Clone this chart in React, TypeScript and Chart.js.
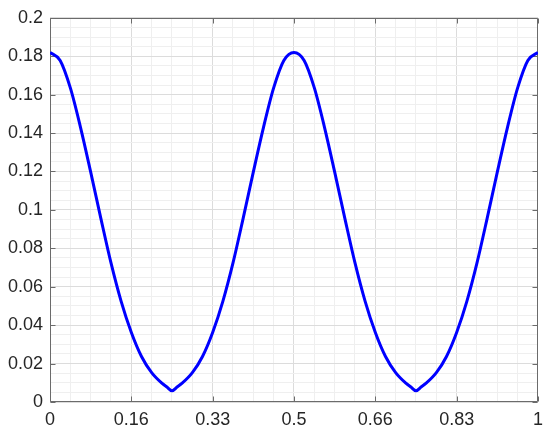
import React, { useEffect, useRef } from 'react';
import { Chart, registerables } from 'chart.js';

Chart.register(...registerables);

// Sample positions along x
const xValues = [
  0, 0.0208, 0.0417, 0.0625, 0.0833, 0.1042, 0.125, 0.1458, 0.1667, 0.1875, 0.2083, 0.2292, 0.2396,
  0.25, 0.2604, 0.2708, 0.2917, 0.3125, 0.3333, 0.3542, 0.375, 0.3958, 0.4167, 0.4375, 0.4583, 0.4792,
  0.5, 0.5208, 0.5417, 0.5625, 0.5833, 0.6042, 0.625, 0.6458, 0.6667, 0.6875, 0.7083, 0.7292, 0.7396,
  0.75, 0.7604, 0.7708, 0.7917, 0.8125, 0.8333, 0.8542, 0.875, 0.8958, 0.9167, 0.9375, 0.9583, 0.9792,
  1,
];

// Curve values
const yValues = [
  0.182, 0.1778, 0.1635, 0.143, 0.1198, 0.0956, 0.0724, 0.0524, 0.0362, 0.0237, 0.0153, 0.0098, 0.0078,
  0.0058, 0.0078, 0.0098, 0.0153, 0.0237, 0.0362, 0.0524, 0.0724, 0.0956, 0.1198, 0.143, 0.1635, 0.1778,
  0.182, 0.1778, 0.1635, 0.143, 0.1198, 0.0956, 0.0724, 0.0524, 0.0362, 0.0237, 0.0153, 0.0098, 0.0078,
  0.0058, 0.0078, 0.0098, 0.0153, 0.0237, 0.0362, 0.0524, 0.0724, 0.0956, 0.1198, 0.143, 0.1635, 0.1778,
  0.182,
];

const xMajorTicks = [0, 1 / 6, 1 / 3, 0.5, 2 / 3, 5 / 6, 1];
const xTickLabels = ['0', '0.16', '0.33', '0.5', '0.66', '0.83', '1'];
const yMajorTicks = [0, 0.02, 0.04, 0.06, 0.08, 0.1, 0.12, 0.14, 0.16, 0.18, 0.2];
const yTickLabels = ['0', '0.02', '0.04', '0.06', '0.08', '0.1', '0.12', '0.14', '0.16', '0.18', '0.2'];
const minorDivisions = 4;

const AXIS_COLOR = '#6b6b6b';
const MAJOR_GRID = '#dcdcdc';
const MINOR_GRID = '#efefef';
const TEXT_COLOR = '#262626';
const LINE_COLOR = '#0000ff';
const FONT_FAMILY = 'Liberation Sans, Arial, Helvetica, sans-serif';

function buildTicks(major: number[], labels: string[]) {
  const ticks: any[] = [];
  for (let i = 0; i < major.length; i++) {
    ticks.push({ value: major[i], major: true, lbl: labels[i] });
    if (i < major.length - 1) {
      const step = (major[i + 1] - major[i]) / minorDivisions;
      for (let j = 1; j < minorDivisions; j++) {
        ticks.push({ value: major[i] + step * j, major: false, lbl: '' });
      }
    }
  }
  return ticks;
}

const boxPlugin = {
  id: 'matlabBox',
  beforeDatasetsDraw(chart: any) {
    const { ctx, chartArea: a, scales } = chart;
    ctx.save();
    ctx.strokeStyle = AXIS_COLOR;
    ctx.lineWidth = 1;
    const l = Math.round(a.left) + 0.5;
    const r = Math.round(a.right) - 0.5;
    const t = Math.round(a.top) + 0.5;
    const b = Math.round(a.bottom) - 0.5;
    ctx.beginPath();
    ctx.rect(l, t, r - l, b - t);
    ctx.stroke();
    const tl = 5;
    ctx.beginPath();
    for (const v of xMajorTicks) {
      const px = Math.round(scales.x.getPixelForValue(v)) + 0.5;
      ctx.moveTo(px, b);
      ctx.lineTo(px, b - tl);
      ctx.moveTo(px, t);
      ctx.lineTo(px, t + tl);
    }
    for (const v of yMajorTicks) {
      const py = Math.round(scales.y.getPixelForValue(v)) + 0.5;
      ctx.moveTo(l, py);
      ctx.lineTo(l + tl, py);
      ctx.moveTo(r, py);
      ctx.lineTo(r - tl, py);
    }
    ctx.stroke();
    ctx.restore();
  },
};

export default function App() {
  const canvasRef = useRef<HTMLCanvasElement | null>(null);

  useEffect(() => {
    document.body.style.margin = '0';
    const canvas = canvasRef.current;
    if (!canvas) return;
    const data = xValues.map((x, i) => ({ x, y: yValues[i] }));
    const gridColor = (ctx: any) => (ctx.tick && ctx.tick.major ? MAJOR_GRID : MINOR_GRID);

    const chart = new Chart(canvas, {
      type: 'line',
      data: {
        datasets: [
          {
            data,
            borderColor: LINE_COLOR,
            backgroundColor: LINE_COLOR,
            borderWidth: 3,
            pointRadius: 0,
            cubicInterpolationMode: 'monotone',
            fill: false,
          },
        ],
      },
      plugins: [boxPlugin],
      options: {
        animation: false,
        responsive: false,
        maintainAspectRatio: false,
        layout: { padding: { top: 15, right: 9, left: 0, bottom: 0 } },
        plugins: { legend: { display: false }, tooltip: { enabled: false } },
        scales: {
          x: {
            type: 'linear',
            min: 0,
            max: 1,
            afterBuildTicks: (scale: any) => {
              scale.ticks = buildTicks(xMajorTicks, xTickLabels);
            },
            afterFit: (scale: any) => {
              scale.height = 32;
            },
            grid: { color: gridColor, drawTicks: false, lineWidth: 1 },
            border: { display: false },
            ticks: {
              autoSkip: false,
              maxRotation: 0,
              padding: 7,
              color: TEXT_COLOR,
              font: { family: FONT_FAMILY, size: 18 },
              callback: (_v: any, i: number, ticks: any[]) => ticks[i].lbl,
            },
          },
          y: {
            type: 'linear',
            min: 0,
            max: 0.2,
            afterBuildTicks: (scale: any) => {
              scale.ticks = buildTicks(yMajorTicks, yTickLabels);
            },
            afterFit: (scale: any) => {
              scale.width = 50;
            },
            grid: { color: gridColor, drawTicks: false, lineWidth: 1 },
            border: { display: false },
            ticks: {
              autoSkip: false,
              padding: 7,
              color: TEXT_COLOR,
              font: { family: FONT_FAMILY, size: 18 },
              callback: (_v: any, i: number, ticks: any[]) => ticks[i].lbl,
            },
          },
        },
      },
    });
    return () => chart.destroy();
  }, []);

  return (
    <div style={{ width: 550, height: 434 }}>
      <canvas ref={canvasRef} width={550} height={434} style={{ display: 'block' }} />
    </div>
  );
}
